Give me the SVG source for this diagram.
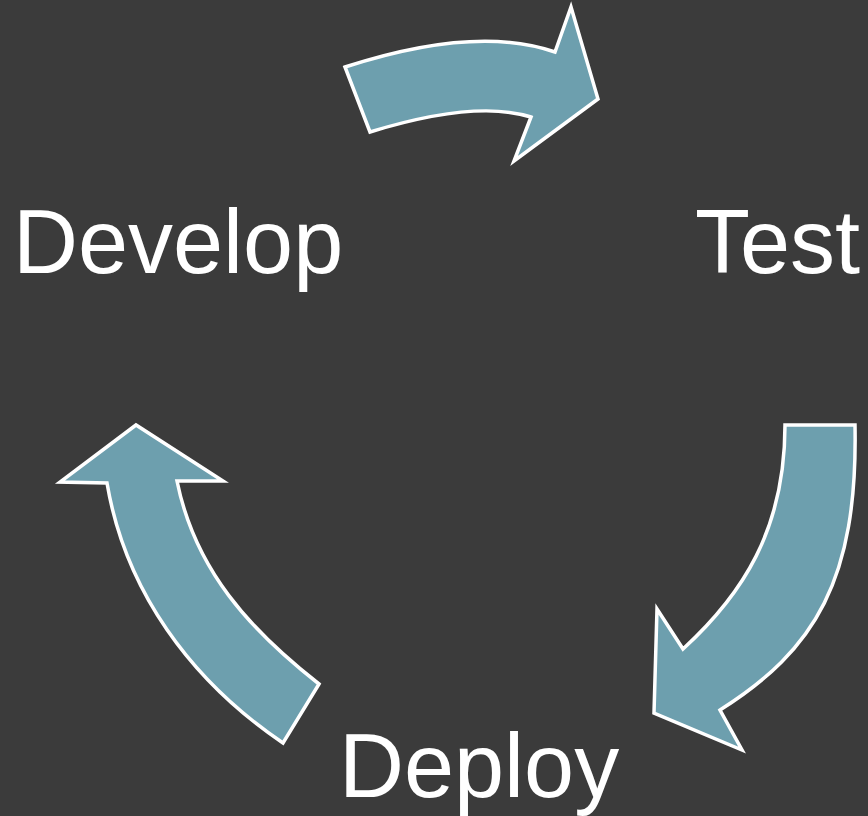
<svg xmlns="http://www.w3.org/2000/svg" width="868" height="816" viewBox="0 0 868 816">
<style>
.arrow{fill:#6d9fae;stroke:#ffffff;stroke-width:3.5;stroke-linejoin:miter}
.lbl{font-family:"Liberation Sans",Arial,sans-serif;font-size:90px;fill:#ffffff}
</style>
<rect width="868" height="816" fill="#3b3b3b"/>
<g id="connectors">
<path id="arrow-develop-test" class="arrow" d="M345,67 Q476,24.5 555,52 L571,7 L598,99 L514,161 L531,117 Q475.5,99.5 370,132 Z"/>
<path id="arrow-test-deploy" class="arrow" d="M785,425 L855,425 C858,580 815,650 720,710 L742,750 L654,713 L657,609 L683,649 C742,595 785,530 785,425 Z"/>
<path id="arrow-deploy-develop" class="arrow" d="M319,684 L283,743 C190,680 125,590 107,483 L60,482 L136,425 L223,481 L177,481 C195,570 250,630 319,684 Z"/>
</g>
<g id="develop"><text class="lbl" x="13" y="273">Develop</text></g>
<g id="test"><text class="lbl" x="695" y="273">Test</text></g>
<g id="deploy"><text class="lbl" x="339" y="797">Deploy</text></g>
</svg>
